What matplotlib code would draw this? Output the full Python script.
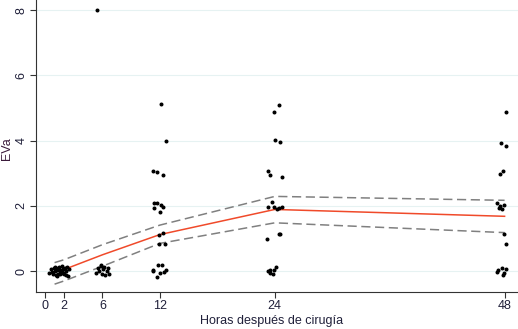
import matplotlib.pyplot as plt

plt.rcParams['font.family'] = ['Liberation Sans', 'DejaVu Sans']

# observaciones individuales (horas, EVa)
x_obs = [0.4, 0.6, 0.8, 0.9, 1.0, 1.1, 1.2, 1.3, 1.4, 1.5, 1.6, 1.7, 1.8, 1.9,
         2.0, 2.1, 2.2, 2.3, 2.4, 2.5, 0.7, 1.0, 1.3, 1.6, 1.9, 2.2, 1.5, 1.8,
         5.3, 5.5, 5.6, 5.8, 6.0, 6.1, 6.2, 6.3, 6.5, 6.6, 6.7, 5.9, 5.4,
         12.1, 12.6, 11.25, 11.7, 12.35, 11.4, 11.65, 12.1, 12.3, 11.4, 12.0,
         12.3, 11.9, 11.9, 12.55, 11.8, 12.25, 11.3, 12.6, 11.25, 12.0, 12.45, 11.65,
         24.4, 23.9, 24.04, 24.5, 23.25, 23.45, 24.7, 23.7, 23.3, 23.9, 24.2,
         24.45, 24.7, 24.5, 24.4, 23.2, 23.3, 23.55, 23.8, 24.1, 23.5, 23.95,
         48.1, 47.6, 48.1, 47.5, 47.85, 47.25, 47.5, 47.4, 47.75, 47.95, 47.9,
         48.1, 47.3, 47.7, 48.1, 47.95, 47.85, 47.2]
y_obs = [-0.05, 0.05, -0.1, 0.08, 0.0, -0.12, 0.1, 0.02, -0.08, 0.12, 0.0, -0.05, 0.15, 0.05,
         -0.1, 0.1, 0.0, 0.12, -0.15, 0.05, -0.02, 0.14, -0.14, -0.1, -0.06, -0.12, 0.06, 0.02,
         -0.05, 0.1, 0.0, 0.15, -0.1, 0.05, 0.12, -0.12, 0.0, 0.08, -0.08, 0.2, 8.0,
         5.12, 4.0, 3.06, 3.03, 2.94, 2.09, 2.09, 2.04, 1.96, 1.94, 1.82,
         1.17, 1.12, 0.82, 0.84, 0.2, 0.18, 0.03, 0.03, 0.0, -0.07, -0.03, -0.17,
         5.08, 4.87, 4.03, 3.96, 3.08, 2.96, 2.89, 2.11, 1.95, 1.95, 1.91,
         1.93, 1.97, 1.14, 1.15, 0.97, 0.0, -0.05, -0.1, 0.12, 0.03, 0.04,
         4.88, 3.93, 3.84, 2.98, 3.06, 2.09, 2.01, 1.94, 1.91, 2.04, 1.14,
         0.82, 0.02, 0.1, 0.07, -0.05, -0.12, -0.02]

# media e intervalo de confianza
t_media = [2, 6, 12, 24, 48]
media = [0.05, 0.5, 1.12, 1.89, 1.68]
t_ic = [1, 2, 6, 12, 24, 48]
ic_sup = [0.26, 0.35, 0.81, 1.41, 2.29, 2.17]
ic_inf = [-0.4, -0.3, 0.15, 0.85, 1.48, 1.18]

ticks_x = [0, 2, 6, 12, 24, 48]
ticks_y = [0, 2, 4, 6, 8]
txt = '#20203a'

fig = plt.figure(figsize=(5.18, 3.29), dpi=100)
ax = fig.add_axes([0.0695, 0.1125, 0.9305, 0.8875])

ax.grid(axis='y', color='#e6f2f2', lw=0.8)
ax.set_axisbelow(True)

ax.plot(t_ic, ic_sup, color='#808080', lw=1.1, dashes=(6, 3))
ax.plot(t_ic, ic_inf, color='#808080', lw=1.1, dashes=(6, 3))
ax.plot(t_media, media, color='#f04a2a', lw=1.1)
ax.scatter(x_obs, y_obs, s=3.5, color='black', zorder=3)

ax.set_xlim(-0.94, 49.4)
ax.set_ylim(-0.64, 8.31)
ax.set_xticks(ticks_x)
ax.set_yticks(ticks_y)
ax.set_yticklabels([str(v) for v in ticks_y], rotation=90, va='center')
ax.tick_params(colors='#333333', labelcolor=txt, labelsize=9, length=4, width=0.8, pad=2)

for s in ['top', 'right']:
    ax.spines[s].set_visible(False)
for s in ['left', 'bottom']:
    ax.spines[s].set_color('#333333')
    ax.spines[s].set_linewidth(0.8)

ax.set_xlabel('Horas después de cirugía', fontsize=9, color=txt, va='top')
ax.xaxis.set_label_coords(0.5 - 5 / 482, -0.078)
ax.set_ylabel('EVa', fontsize=9, color='#3a1a3a', va='center')
ax.yaxis.set_label_coords(-0.06, 0.49)

fig.savefig('out.png', dpi=100)
